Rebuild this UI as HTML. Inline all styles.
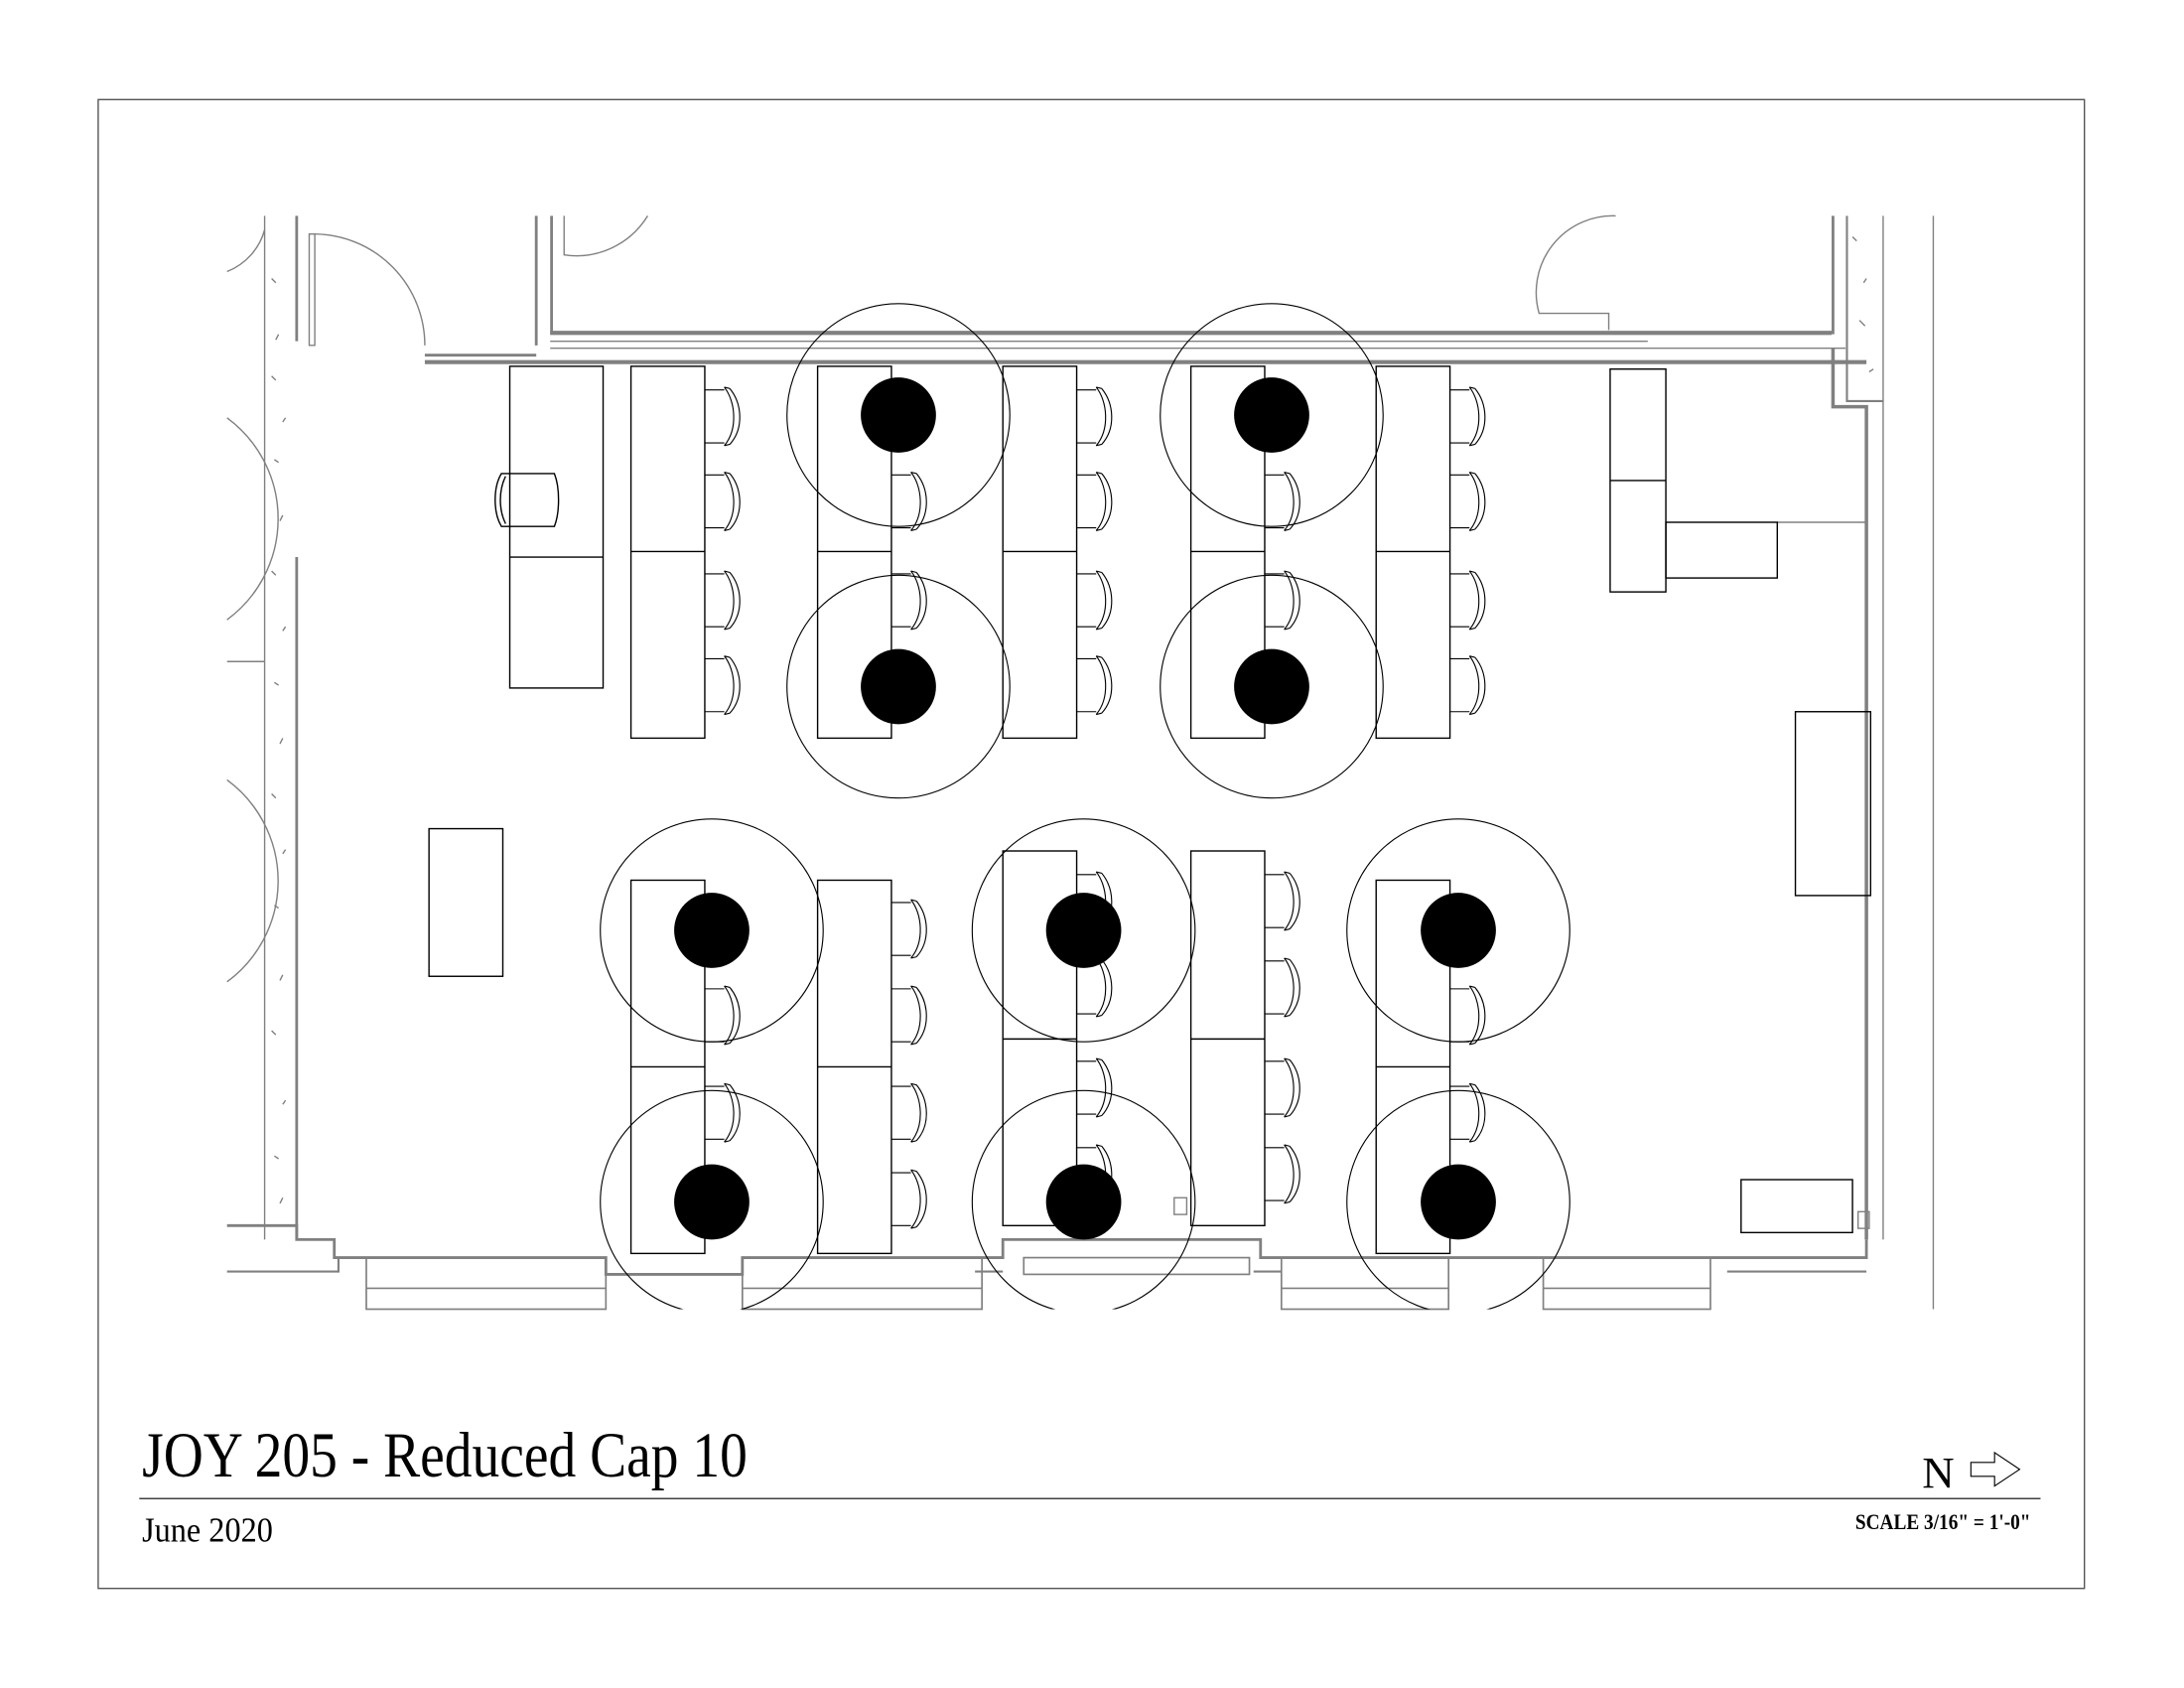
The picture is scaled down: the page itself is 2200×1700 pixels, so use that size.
<!DOCTYPE html>
<html><head><meta charset="utf-8"><style>
html,body{margin:0;padding:0;background:#fff;width:2200px;height:1700px;overflow:hidden}
svg{display:block}
</style></head><body>
<svg width="2200" height="1700" viewBox="0 0 1568 1212" preserveAspectRatio="none" xmlns="http://www.w3.org/2000/svg">
<defs>
<g id="ch" fill="none" stroke="#000" stroke-width="0.8">
<path d="M0,0 H14 M0,38 H14 M14,-2 C22,8 24,28 14,40 M18,-1 C27,10 28,28 18,39 M14,-2 L18,-1 M14,40 L18,39"/>
</g>
</defs>
<rect x="70.5" y="71.5" width="1426" height="1069" fill="none" stroke="#555" stroke-width="1"/>
<g fill="none" stroke="#808080">
<line x1="190" y1="155" x2="190" y2="890" stroke-width="1"/>
<line x1="213" y1="155" x2="213" y2="245" stroke-width="2"/>
<line x1="213" y1="400" x2="213" y2="890" stroke-width="2"/>
<line x1="163" y1="475" x2="190" y2="475"/>
<path d="M222,248 V168 H226 V248 Z" stroke-width="1"/>
<path d="M226,168 A80,80 0 0 1 305,248" stroke-width="1"/>
<line x1="305" y1="255" x2="385" y2="255" stroke-width="2"/>
<line x1="305" y1="260" x2="1340" y2="260" stroke-width="3"/>
<line x1="395" y1="245" x2="1183" y2="245" stroke-width="1"/>
<line x1="395" y1="250" x2="1325" y2="250" stroke-width="1"/>
<line x1="395" y1="239" x2="1315" y2="239" stroke-width="3"/>
<line x1="385" y1="155" x2="385" y2="248" stroke-width="2"/>
<line x1="396" y1="155" x2="396" y2="240" stroke-width="2"/>
<path d="M405,155 V183 A60,60 0 0 0 465,155"/>
<path d="M1160,155 A55,55 0 0 0 1105,225 H1155 V237"/>
<line x1="1316" y1="155" x2="1316" y2="240" stroke-width="2"/>
<path d="M1326,155 V288 H1352" stroke-width="1.5"/>
<line x1="1352" y1="155" x2="1352" y2="890"/>
<path d="M1316,250 V292 H1340 V890" stroke-width="2.5"/>
<line x1="1388" y1="155" x2="1388" y2="940"/>
<path d="M1276,375 H1340"/>
<path d="M163,880 H213 V890 H240 V903 H435 V915 H533 V903 H720 V890 H905 V903 H1340 V890" stroke-width="2"/>
<path d="M163,913 H243 V903 M700,913 H720 M900,913 H920 M1240,913 H1340" stroke-width="1.5"/>
<g stroke-width="1.2">
<rect x="263" y="903" width="172" height="37"/><line x1="263" y1="925" x2="435" y2="925"/>
<rect x="533" y="903" width="172" height="37"/><line x1="533" y1="925" x2="705" y2="925"/>
<rect x="920" y="903" width="120" height="37"/><line x1="920" y1="925" x2="1040" y2="925"/>
<rect x="1108" y="903" width="120" height="37"/><line x1="1108" y1="925" x2="1228" y2="925"/>
<rect x="735" y="903" width="162" height="12"/>
</g>
<path d="M163,195 A45,45 0 0 0 190,165 M163,300 A90,90 0 0 1 163,445 M163,560 A90,90 0 0 1 163,705"/>
</g>
<g stroke="#808080" stroke-width="1" fill="none">
<path d="M195,200 l3,3 M200,240 l-2,4 M195,270 l3,3 M205,300 l-2,3 M197,330 l3,2 M203,370 l-2,4 M195,410 l3,3 M205,450 l-2,3 M197,490 l3,2 M203,530 l-2,4 M195,570 l3,3 M205,610 l-2,3 M197,650 l3,2 M203,700 l-2,4 M195,740 l3,3 M205,790 l-2,3 M197,830 l3,2 M203,860 l-2,4 M1330,170 l3,3 M1340,200 l-2,3 M1335,230 l4,4 M1345,265 l-3,2"/>
</g>
<g fill="none" stroke="#000" stroke-width="1">
<rect x="366" y="263" width="67" height="231"/><line x1="366" y1="400" x2="433" y2="400"/>
<path d="M360,340 H398 C402,350 402,368 398,378 H360 C354,368 354,350 360,340 Z M363,342 C358,352 358,366 363,376"/>
<rect x="453" y="263" width="53" height="267"/><line x1="453" y1="396" x2="506" y2="396"/>
<rect x="587" y="263" width="53" height="267"/><line x1="587" y1="396" x2="640" y2="396"/>
<rect x="720" y="263" width="53" height="267"/><line x1="720" y1="396" x2="773" y2="396"/>
<rect x="855" y="263" width="53" height="267"/><line x1="855" y1="396" x2="908" y2="396"/>
<rect x="988" y="263" width="53" height="267"/><line x1="988" y1="396" x2="1041" y2="396"/>
<rect x="1156" y="265" width="40" height="160"/><line x1="1156" y1="345" x2="1196" y2="345"/>
<rect x="1196" y="375" width="80" height="40"/>
<rect x="1289" y="511" width="54" height="132"/>
<rect x="308" y="595" width="53" height="106"/>
<rect x="453" y="632" width="53" height="268"/><line x1="453" y1="766" x2="506" y2="766"/>
<rect x="587" y="632" width="53" height="268"/><line x1="587" y1="766" x2="640" y2="766"/>
<rect x="720" y="611" width="53" height="269"/><line x1="720" y1="746" x2="773" y2="746"/>
<rect x="855" y="611" width="53" height="269"/><line x1="855" y1="746" x2="908" y2="746"/>
<rect x="988" y="632" width="53" height="268"/><line x1="988" y1="766" x2="1041" y2="766"/>
<rect x="1250" y="847" width="80" height="38"/>
<rect x="843" y="860" width="9" height="12" stroke="#808080"/>
<rect x="1334" y="870" width="8" height="12" stroke="#808080"/>
</g>
<g>
<use href="#ch" x="506" y="280"/><use href="#ch" x="506" y="341"/><use href="#ch" x="506" y="412"/><use href="#ch" x="506" y="473"/>
<use href="#ch" x="640" y="341"/><use href="#ch" x="640" y="412"/>
<use href="#ch" x="773" y="280"/><use href="#ch" x="773" y="341"/><use href="#ch" x="773" y="412"/><use href="#ch" x="773" y="473"/>
<use href="#ch" x="908" y="341"/><use href="#ch" x="908" y="412"/>
<use href="#ch" x="1041" y="280"/><use href="#ch" x="1041" y="341"/><use href="#ch" x="1041" y="412"/><use href="#ch" x="1041" y="473"/>
<use href="#ch" x="506" y="710"/><use href="#ch" x="506" y="780"/>
<use href="#ch" x="640" y="648"/><use href="#ch" x="640" y="710"/><use href="#ch" x="640" y="780"/><use href="#ch" x="640" y="842"/>
<use href="#ch" x="773" y="628"/><use href="#ch" x="773" y="690"/><use href="#ch" x="773" y="762"/><use href="#ch" x="773" y="824"/>
<use href="#ch" x="908" y="628"/><use href="#ch" x="908" y="690"/><use href="#ch" x="908" y="762"/><use href="#ch" x="908" y="824"/>
<use href="#ch" x="1041" y="710"/><use href="#ch" x="1041" y="780"/>
</g>
<clipPath id="cp"><rect x="0" y="0" width="1568" height="940"/></clipPath>
<g clip-path="url(#cp)">
<g fill="none" stroke="#000" stroke-width="0.8">
<circle cx="645" cy="298" r="80"/><circle cx="645" cy="493" r="80"/>
<circle cx="913" cy="298" r="80"/><circle cx="913" cy="493" r="80"/>
<circle cx="511" cy="668" r="80"/><circle cx="778" cy="668" r="80"/><circle cx="1047" cy="668" r="80"/>
<circle cx="511" cy="863" r="80"/><circle cx="778" cy="863" r="80"/><circle cx="1047" cy="863" r="80"/>
</g>
<g fill="#000">
<circle cx="645" cy="298" r="27"/><circle cx="645" cy="493" r="27"/>
<circle cx="913" cy="298" r="27"/><circle cx="913" cy="493" r="27"/>
<circle cx="511" cy="668" r="27"/><circle cx="778" cy="668" r="27"/><circle cx="1047" cy="668" r="27"/>
<circle cx="511" cy="863" r="27"/><circle cx="778" cy="863" r="27"/><circle cx="1047" cy="863" r="27"/>
</g>
</g>
<text x="102" y="1060" font-family="Liberation Serif, serif" font-size="46" transform="translate(102 1060) scale(0.86 1) translate(-102 -1060)">JOY 205 - Reduced Cap 10</text>
<line x1="100" y1="1076" x2="1465" y2="1076" stroke="#000" stroke-width="0.8"/>
<text x="102" y="1107" font-family="Liberation Serif, serif" font-size="25" transform="translate(102 1107) scale(0.92 1) translate(-102 -1107)">June 2020</text>
<text x="1380" y="1068" font-family="Liberation Serif, serif" font-size="32">N</text>
<path d="M1415,1050 H1432 V1043 L1450,1055 L1432,1067 V1060 H1415 Z" fill="none" stroke="#000" stroke-width="0.8"/>
<text x="1332" y="1098" font-family="Liberation Serif, serif" font-size="16" font-weight="bold" transform="translate(1332 1098) scale(0.86 1) translate(-1332 -1098)">SCALE 3/16" = 1'-0"</text>
</svg>
</body></html>
